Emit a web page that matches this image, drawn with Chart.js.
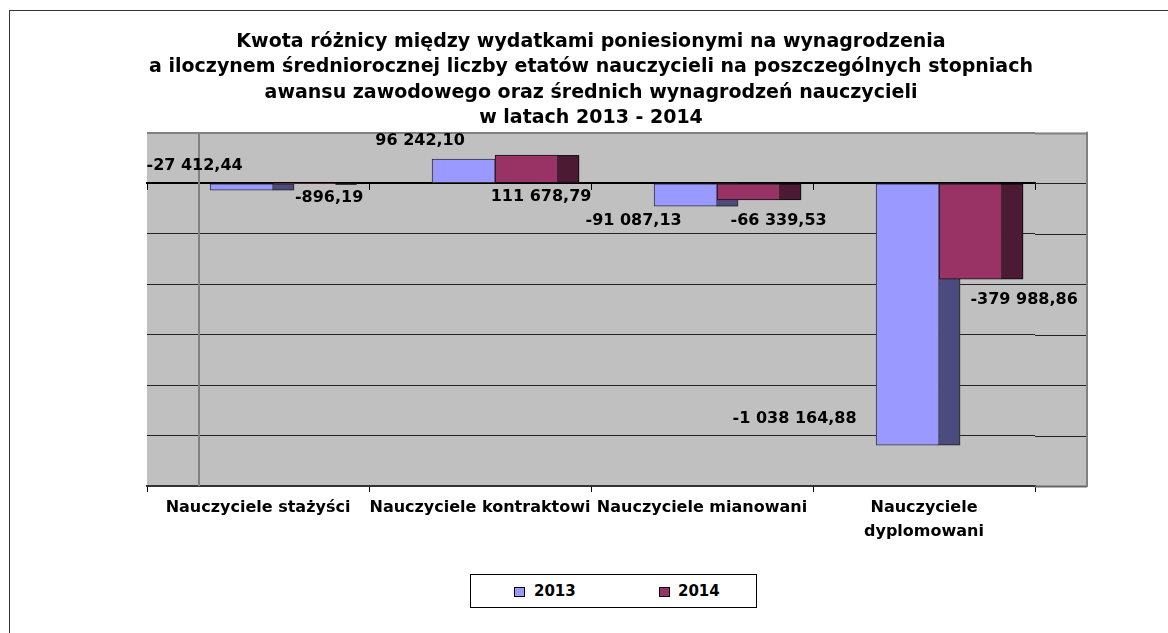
<!DOCTYPE html>
<html lang="pl">
<head>
<meta charset="utf-8">
<title>Kwota różnicy - wynagrodzenia nauczycieli 2013-2014</title>
<script src="https://cdn.jsdelivr.net/npm/chart.js@4.4.1/dist/chart.umd.min.js"></script>
<style>
  html, body { margin: 0; padding: 0; background: #fff; overflow: hidden; }
  #ramka { position: absolute; left: 9px; top: 10px; width: 1400px; height: 900px; border: 1px solid #333; }
  #wykres { position: absolute; left: 0; top: 0; }
  #legenda { position: absolute; left: 470px; top: 574px; width: 287px; height: 34px; box-sizing: border-box;
    border: 1px solid #000; background: #fff; font: bold 15px "DejaVu Sans", sans-serif; color: #000; }
  #legenda .kw { position: absolute; top: 12px; width: 11px; height: 10px; box-sizing: border-box; border: 1px solid #000; }
  #legenda .tx { position: absolute; top: 7px; line-height: 18px; }
</style>
</head>
<body>
<div id="ramka"></div>
<canvas id="wykres" width="1168" height="633"></canvas>
<div id="legenda"></div>

<script>
// DANE

    const kategorie = ['Nauczyciele stażyści', 'Nauczyciele kontraktowi', 'Nauczyciele mianowani', ['Nauczyciele', 'dyplomowani']];
    const lata = ['2013', '2014'];
    const wartosci2013 = [-27412.44, 96242.10, -91087.13, -1038164.88];
    const wartosci2014 = [-896.19, 111678.79, -66339.53, -379988.86];
    const osYMin = -1200000;
    const osYMax = 200000;
    const osYKrok = 200000;

// STYL

    const kolory = ['#9999ff', '#993366'];
    const koloryBoku = ['#4b4b80', '#4d1a33'];
    const koloryRamki = ['#333333', '#111111'];
    const szerSlupka = 63;
    const szerBoku = 21;      // boczna ściana słupka (efekt 3D)
    const glebia = 52;        // przesunięcie tylnej ściany
    const przesuniecie = 0.068;

    // położenie etykiet względem końca słupka, w pikselach
    const etykietyDx = [[-47, -43.5, -52, -113], [24.5, 14.5, 30, 53.5]];
    const etykietyDy = [[-24, -17.7, 14.5, -26], [14.3, 42.2, 20.7, 21]];

    function formatPL(v) {
        const s = Math.abs(v).toFixed(2).split('.');
        const calk = s[0].replace(/\B(?=(\d{3})+(?!\d))/g, ' ');
        return (v < 0 ? '-' : '') + calk + ',' + s[1];
    }

// TŁO, ŚCIANY I BOKI SŁUPKÓW

    const efekt3d = {
        id: 'efekt3d',
        beforeDraw(chart) {
            const {ctx, chartArea: a} = chart;
            ctx.save();
            ctx.fillStyle = '#c0c0c0';
            ctx.fillRect(a.left, a.top, a.right - a.left + glebia, a.bottom - a.top);
            ctx.restore();
        },
        beforeDatasetsDraw(chart) {
            const {ctx, chartArea: a, scales} = chart;
            const y = scales.y;
            ctx.save();

            // przedłużenie siatki na tylną ścianę
            y.ticks.forEach(t => {
                const py = Math.round(y.getPixelForValue(t.value)) + 0.5;
                ctx.beginPath();
                if (t.value === osYMax) { ctx.strokeStyle = '#808080'; ctx.lineWidth = 2; }
                else if (t.value === osYMin) { ctx.strokeStyle = '#666666'; ctx.lineWidth = 2; }
                else { ctx.strokeStyle = '#222222'; ctx.lineWidth = 1; }
                ctx.moveTo(a.right, py);
                ctx.lineTo(a.right + glebia, py);
                ctx.stroke();
            });

            // krawędź ściany bocznej i prawa krawędź
            ctx.strokeStyle = '#808080';
            ctx.lineWidth = 2;
            ctx.beginPath();
            ctx.moveTo(a.left + glebia, a.top);
            ctx.lineTo(a.left + glebia, a.bottom);
            ctx.moveTo(a.right + glebia, a.top - 1);
            ctx.lineTo(a.right + glebia, a.bottom + 1);
            ctx.stroke();

            // boczne ściany słupków
            chart.data.datasets.forEach((ds, i) => {
                chart.getDatasetMeta(i).data.forEach(bar => {
                    const x = bar.x + bar.width / 2;
                    const top = Math.min(bar.y, bar.base);
                    const h = Math.abs(bar.base - bar.y);
                    ctx.fillStyle = koloryBoku[i];
                    ctx.fillRect(x, top, szerBoku, h);
                    ctx.strokeStyle = koloryRamki[i];
                    ctx.lineWidth = 1;
                    ctx.strokeRect(x - 0.5, top + 0.5, szerBoku, Math.max(h - 1, 0));
                });
            });
            ctx.restore();
        },
        afterDatasetsDraw(chart) {
            const {ctx} = chart;
            ctx.save();
            ctx.font = 'bold 16px "DejaVu Sans", sans-serif';
            ctx.fillStyle = '#000';
            ctx.textAlign = 'center';
            ctx.textBaseline = 'middle';
            chart.data.datasets.forEach((ds, i) => {
                chart.getDatasetMeta(i).data.forEach((bar, j) => {
                    ctx.fillText(formatPL(ds.data[j].y), bar.x + etykietyDx[i][j], bar.y + etykietyDy[i][j]);
                });
            });
            ctx.restore();
        }
    };

// WYKRES

    const wartosci = [wartosci2013, wartosci2014];

    const wykres = new Chart(document.getElementById('wykres'), {
        type: 'bar',
        data: {
            labels: kategorie,
            datasets: lata.map((rok, i) => ({
                label: rok,
                data: wartosci[i].map((v, j) => ({x: j + przesuniecie, y: v})),
                xAxisID: 'xb',
                backgroundColor: kolory[i],
                borderColor: koloryRamki[i],
                borderWidth: 1,
                borderSkipped: false,
                barThickness: szerSlupka
            }))
        },
        options: {
            responsive: false,
            animation: false,
            layout: { padding: { left: 147, right: 133, top: 0, bottom: 85 } },
            plugins: {
                legend: { display: false },
                tooltip: { enabled: false },
                title: {
                    display: true,
                    text: [
                        'Kwota różnicy między wydatkami poniesionymi na wynagrodzenia',
                        'a iloczynem średniorocznej liczby etatów nauczycieli na poszczególnych stopniach',
                        'awansu zawodowego oraz średnich wynagrodzeń nauczycieli',
                        'w latach 2013 - 2014'
                    ],
                    color: '#000',
                    font: { family: '"DejaVu Sans", sans-serif', size: 19, weight: 'bold', lineHeight: 1.34 },
                    padding: { top: 29, bottom: 2 }
                }
            },
            scales: {
                xb: {
                    type: 'linear',
                    display: false,
                    offset: false,
                    min: -0.5,
                    max: 3.5
                },
                x: {
                    type: 'category',
                    position: 'bottom',
                    offset: true,
                    grid: { offset: true, drawOnChartArea: false, drawTicks: true, tickLength: 6, color: '#000' },
                    border: { display: true, color: '#333', width: 2 },
                    ticks: {
                        autoSkip: false, maxRotation: 0, minRotation: 0, padding: 4, color: '#000',
                        font: { family: '"DejaVu Sans", sans-serif', size: 16, weight: 'bold', lineHeight: 1.5 }
                    }
                },
                x0: {
                    type: 'category',
                    position: { y: 0 },
                    offset: true,
                    grid: { offset: true, drawOnChartArea: false, drawTicks: true, tickLength: 6, color: '#000' },
                    border: { display: true, color: '#000', width: 2 },
                    ticks: { display: false }
                },
                y: {
                    min: osYMin,
                    max: osYMax,
                    ticks: { display: false, stepSize: osYKrok },
                    border: { display: false },
                    grid: {
                        drawTicks: false,
                        color: c => c.tick.value === osYMax ? '#808080' : '#222222',
                        lineWidth: c => c.tick.value === osYMax ? 2 : 1
                    }
                }
            }
        },
        plugins: [efekt3d]
    });

// LEGENDA (HTML)

    const legenda = document.getElementById('legenda');
    const polozenia = [[43, 63], [188, 207]];
    lata.forEach((rok, i) => {
        legenda.innerHTML += `<span class="kw" style="left:${polozenia[i][0]}px;background:${kolory[i]}"></span>` +
                             `<span class="tx" style="left:${polozenia[i][1]}px">${rok}</span>`;
    });
</script>
</body>
</html>
